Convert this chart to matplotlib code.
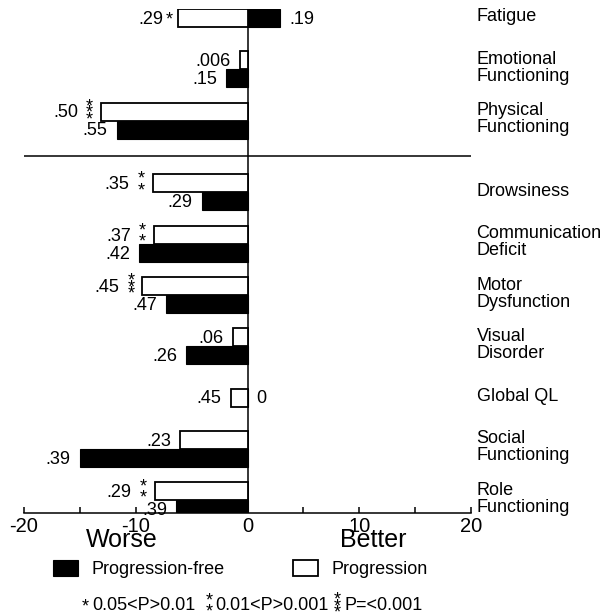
import numpy as np
import matplotlib.pyplot as plt

plt.rcParams['font.family'] = ['Liberation Sans', 'DejaVu Sans']
plt.rcParams['axes.unicode_minus'] = False

categories = ['Fatigue', 'Emotional\nFunctioning', 'Physical\nFunctioning',
              'Drowsiness', 'Communication\nDeficit', 'Motor\nDysfunction',
              'Visual\nDisorder', 'Global QL', 'Social\nFunctioning',
              'Role\nFunctioning']
progression = [-6.2, -0.7, -13.1, -8.5, -8.4, -9.4, -1.3, -1.5, -6.0, -8.3]
prog_free = [2.9, -1.9, -11.7, -4.1, -9.7, -7.3, -5.5, 0.0, -15.0, -6.4]
prog_labels = ['.29', '.006', '.50', '.35', '.37', '.45', '.06', '.45', '.23', '.29']
prog_stars = [1, 0, 3, 2, 2, 3, 0, 0, 0, 2]
free_labels = ['.19', '.15', '.55', '.29', '.42', '.47', '.26', '0', '.39', '.39']

n = len(categories)
idx = np.arange(n)
rows = idx + np.where(idx >= 3, 0.4, 0.0)   # gap below the functioning block
h = 0.35
fs = 13
star_base = 0.57 * fs - 3.0   # baseline shift that centres an asterisk

# bars pointing opposite ways (or a zero bar) share the row centre
paired = np.array([(p * f > 0) for p, f in zip(progression, prog_free)])
y_prog = np.where(paired, rows - h / 2, rows)
y_free = np.where(paired, rows + h / 2, rows)

fig = plt.figure(figsize=(6.08, 6.15), dpi=100)
ax = fig.add_axes([24 / 608, 1 - 513 / 615, 447 / 608, 504 / 615])

ax.axvline(0, color='black', lw=1.1, zorder=1)
bfree = ax.barh(y_free, prog_free, height=h, color='black', edgecolor='black',
                lw=0.8, label='Progression-free', zorder=2)
bprog = ax.barh(y_prog, progression, height=h, color='white', edgecolor='black',
                lw=1.3, label='Progression', zorder=3)
ax.hlines(2.7, -20, 20, color='black', lw=1.1)

ax.set_xlim(-20, 20)
ax.set_ylim(9.65, -0.175)


def star_dy(k):
    return {1: [0.0], 2: [4.0, -4.0], 3: [4.7, 0.0, -4.7]}.get(k, [])


def stars(k, xy, dx, coords='data'):
    for dy in star_dy(k):
        ax.annotate('*', xy=xy, xycoords=coords, xytext=(dx, dy - star_base),
                    textcoords='offset points', ha='center', va='baseline',
                    fontsize=fs, annotation_clip=False)


# value labels for the progression group, with significance stars
for y, v, lab, k in zip(y_prog, progression, prog_labels, prog_stars):
    if k == 0:
        dx_num, dx_star = -6.5, 0
    elif k == 1:
        dx_num, dx_star = -11, -6.5
    else:
        dx_num, dx_star = -16.5, -8.3
    ax.annotate(lab, xy=(min(v, 0), y), xytext=(dx_num, -1), textcoords='offset points',
                ha='right', va='center', fontsize=fs)
    stars(k, (min(v, 0), y), dx_star)

for y, v, lab in zip(y_free, prog_free, free_labels):
    if v >= 0:
        ax.annotate(lab, xy=(v, y), xytext=(6.5, -1), textcoords='offset points',
                    ha='left', va='center', fontsize=fs)
    else:
        ax.annotate(lab, xy=(v, y), xytext=(-6.5, -1), textcoords='offset points',
                    ha='right', va='center', fontsize=fs)

for r, c in zip(rows, categories):
    ax.annotate(c, xy=(1, r), xycoords=('axes fraction', 'data'), xytext=(4, 1),
                textcoords='offset points', ha='left', va='center',
                fontsize=13, linespacing=1.0, annotation_clip=False)

# x axis: only the bottom line with upward ticks
for s in ['top', 'left', 'right']:
    ax.spines[s].set_visible(False)
ax.spines['bottom'].set_linewidth(1.1)
ax.set_yticks([])
ax.set_xticks([-20, -10, 0, 10, 20])
ax.set_xticks([-15, -5, 5, 15], minor=True)
ax.tick_params(axis='x', which='both', direction='in', length=4.5, width=1.1,
               labelsize=14.5, pad=3)

ax.annotate('Worse', xy=(-11.25, 0), xycoords=('data', 'axes fraction'),
            xytext=(0, -19.5), textcoords='offset points', ha='center',
            va='center', fontsize=18)
ax.annotate('Better', xy=(11.25, 0), xycoords=('data', 'axes fraction'),
            xytext=(0, -19.5), textcoords='offset points', ha='center',
            va='center', fontsize=18)

ax.legend(handles=[bfree, bprog], ncol=2, frameon=False, fontsize=13,
          handlelength=1.4, handleheight=1.0, handletextpad=0.72,
          columnspacing=3.8, borderpad=0, borderaxespad=0, loc='upper left',
          bbox_to_anchor=(53 / 608, 1 - 560 / 615), bbox_transform=fig.transFigure)

# p-value key
key_y = 1 - 605 / 615
key_parts = [(1, 85, '0.05<P>0.01', 92), (2, 209, '0.01<P>0.001', 215),
             (3, 337, 'P=<0.001', 344)]
for k, xs, txt, xt in key_parts:
    stars(k, (xs / 608, key_y), 0, coords='figure fraction')
    fig.text(xt / 608, key_y, txt, fontsize=fs, ha='left', va='center')

fig.savefig('out.png', dpi=100)
